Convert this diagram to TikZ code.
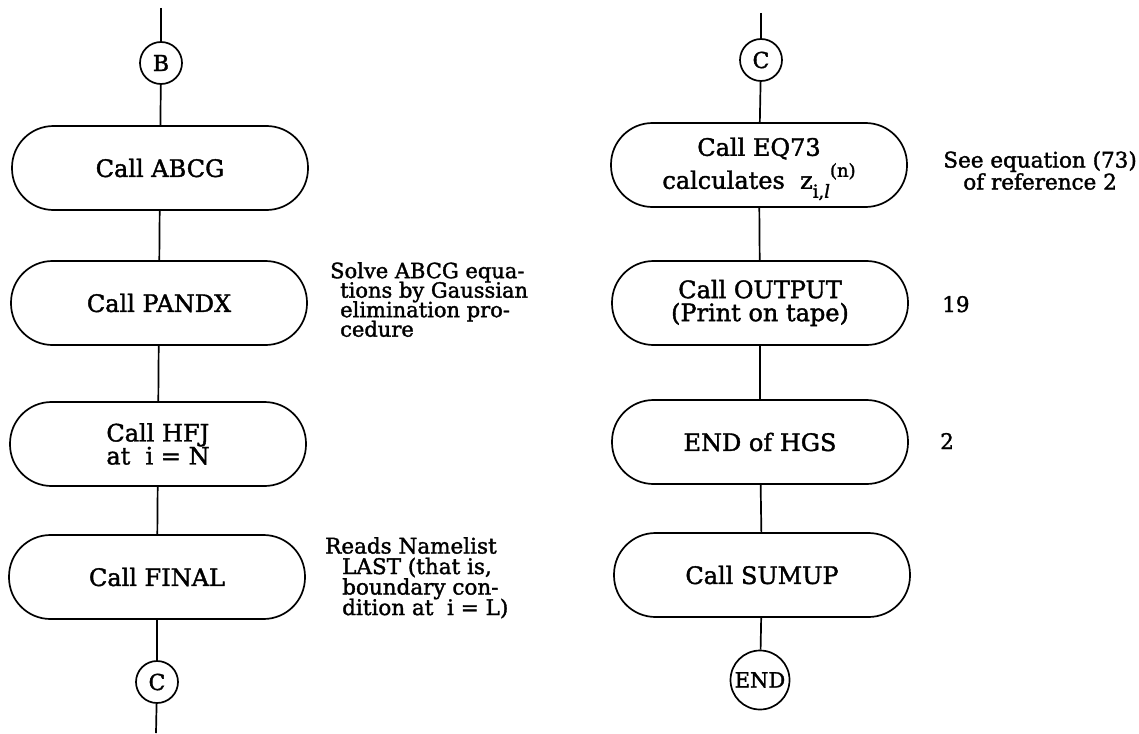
\documentclass[tikz,border=0pt]{standalone}
\usepackage{fontspec}
\setmainfont{DejaVu Serif}[FakeBold=1.6]
\newcommand\mytightskip{\lineskiplimit -30pt\relax}
\begin{document}
\begin{tikzpicture}[x=1pt,y=-1pt,
  line/.style={line width=1.7pt},
  procbox/.style={draw, line width=1.7pt, rounded corners=41.5pt,
    minimum width=296pt, minimum height=84pt, inner sep=0pt,
    align=center, font=\fontsize{24}{23}\selectfont\mytightskip},
  connector/.style={draw, circle, line width=1.7pt, minimum size=42pt,
    inner sep=0pt, font=\fontsize{22}{22}\selectfont},
  note/.style={inner sep=0pt, align=left,
    font=\fontsize{21}{19.5}\selectfont\mytightskip},
  numlabel/.style={inner sep=0pt, font=\fontsize{21.5}{21.5}\selectfont}]
\useasboundingbox (0,0) rectangle (1139,733);

% left column
\coordinate (topL) at (161,8);
\node[connector] (B) at (161,63) {B};
\node[procbox] (abcg) at (160,168) {Call ABCG};
\node[procbox] (pandx) at (159,303) {Call PANDX};
\node[procbox, align=left] (hfj) at (158,444) {Call HFJ\\at~~i = N};
\node[procbox] (final) at (157,577) {Call FINAL};
\node[connector] (C1) at (157,682) {C};
\coordinate (botL) at (156,733);

\draw[line] (topL) -- (B);
\draw[line] (B) -- (abcg);
\draw[line] (abcg) -- (pandx);
\draw[line] (pandx) -- (hfj);
\draw[line] (hfj) -- (final);
\draw[line] (final) -- (C1);
\draw[line] (C1) -- (botL);

\node[note, anchor=north west] (solve) at (330,262)
  {Solve ABCG equa-\\\hspace*{10pt}tions by Gaussian\\\hspace*{10pt}elimination pro-\\\hspace*{10pt}cedure};
\node[note, anchor=north west, font=\fontsize{21.5}{20.5}\selectfont\mytightskip] (reads) at (325,537)
  {Reads Namelist\\\hspace*{17pt}LAST (that is,\\\hspace*{17pt}boundary con-\\\hspace*{17pt}dition at~~i = L)};

% right column
\coordinate (topR) at (761,13);
\node[connector] (C2) at (761,60) {C};
\node[procbox, font=\fontsize{24}{33}\selectfont\mytightskip] (eq73) at (759,165)
  {\rule{0pt}{26pt}Call EQ73\\calculates~~z\raisebox{-9pt}{\fontsize{18}{18}\selectfont i,\textit{l}}\raisebox{12pt}{\fontsize{18}{18}\selectfont (n)}};
\node[procbox] (output) at (760,303) {Call OUTPUT\\(Print on tape)};
\node[procbox] (hgs) at (760,442) {END of HGS};
\node[procbox] (sumup) at (762,575) {Call SUMUP};
\node[connector, minimum size=59pt, font=\fontsize{21}{21}\selectfont] (end) at (760,680) {END};

\draw[line] (topR) -- (C2);
\draw[line] (C2) -- (eq73);
\draw[line] (eq73) -- (output);
\draw[line] (output) -- (hgs);
\draw[line] (hgs) -- (sumup);
\draw[line] (sumup) -- (end);

\node[note, align=center, anchor=north east, font=\fontsize{21.5}{22}\selectfont\mytightskip] (see) at (1137,151)
  {See equation (73)\\of reference 2};
\node[numlabel, anchor=base west] (n19) at (942,312) {19};
\node[numlabel, anchor=base west] (n2) at (940,449) {2};
\end{tikzpicture}
\end{document}
